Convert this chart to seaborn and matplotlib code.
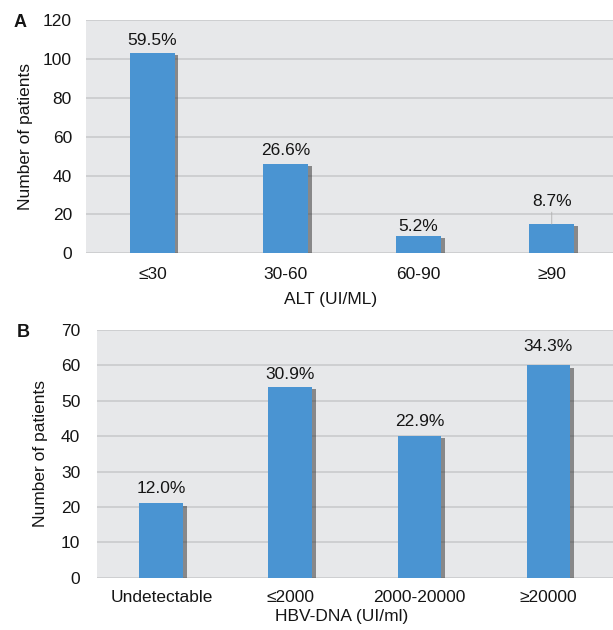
import matplotlib
matplotlib.use('Agg')
import matplotlib.pyplot as plt
import matplotlib.patheffects as pe
import pandas as pd
import seaborn as sns

# panel A: ALT
alt_groups = ['≤30', '30-60', '60-90', '≥90']
alt_counts = [103, 46, 9, 15]
alt_pct = ['59.5%', '26.6%', '5.2%', '8.7%']

# panel B: HBV-DNA
dna_groups = ['Undetectable', '≤2000', '2000-20000', '≥20000']
dna_counts = [21, 54, 40, 60]
dna_pct = ['12.0%', '30.9%', '22.9%', '34.3%']

sns.set_theme(style='white')
plt.rcParams['font.family'] = ['Liberation Sans', 'DejaVu Sans']
for k in ['text.color', 'axes.labelcolor', 'xtick.color', 'ytick.color']:
    plt.rcParams[k] = '#151515'

bar_color = '#4a94d2'
bg = '#e7e8ea'
grid = '#cacbcd'
fs = 12.5

fig = plt.figure(figsize=(6.13, 6.30), dpi=100)
ax1 = fig.add_axes([0.140, 0.598, 0.860, 0.370])
ax2 = fig.add_axes([0.158, 0.083, 0.842, 0.393])


def draw(ax, groups, counts, pct, ymax, step, xlabel, xlab_pos, ylab_x, tickpad_x, tickpad_y, label_offsets):
    df = pd.DataFrame({'group': groups, 'count': counts})
    sns.barplot(data=df, x='group', y='count', color=bar_color, width=0.34,
                saturation=1, linewidth=0, ax=ax, zorder=3)
    for p in ax.patches:
        p.set_path_effects([pe.SimplePatchShadow(offset=(2.5, -1.5), shadow_rgbFace='#2a2a2a', alpha=0.5),
                            pe.Normal()])
    ax.set_facecolor(bg)
    ax.set_ylim(0, ymax)
    ax.set_yticks(range(0, ymax + 1, step))
    ax.yaxis.grid(True, color=grid, linewidth=1.2, zorder=0)
    ax.set_axisbelow(True)
    for s in ax.spines.values():
        s.set_visible(False)
    ax.tick_params(axis='both', length=0, labelsize=fs)
    ax.tick_params(axis='x', pad=tickpad_x)
    ax.tick_params(axis='y', pad=tickpad_y)
    ax.set_xlabel(xlabel, fontsize=fs)
    ax.xaxis.set_label_coords(*xlab_pos)
    ax.set_ylabel('Number of patients', fontsize=fs)
    ax.yaxis.set_label_coords(ylab_x, 0.5)
    for i, (c, t) in enumerate(zip(counts, pct)):
        off = label_offsets[i]
        kw = {}
        if off > 8:
            kw['arrowprops'] = dict(arrowstyle='-', color='#b0b0b0', lw=0.6, shrinkA=0, shrinkB=0)
        ax.annotate(t, xy=(i, c), xytext=(0, off), textcoords='offset points',
                    ha='center', va='bottom', fontsize=fs, **kw)


draw(ax1, alt_groups, alt_counts, alt_pct, 120, 20, 'ALT (UI/ML)', (0.465, -0.165), -0.10,
     10, 10, [4, 4, 1.5, 11])
ax1.set_xlim(-0.5, 3.46)

draw(ax2, dna_groups, dna_counts, dna_pct, 70, 10, 'HBV-DNA (UI/ml)', (0.475, -0.125), -0.095,
     9, 12, [5, 3.5, 5, 8])
ax2.set_xlim(-0.5, 3.5)

fig.text(0.022, 0.965, 'A', fontsize=13, fontweight='bold', ha='left', va='center')
fig.text(0.027, 0.473, 'B', fontsize=13, fontweight='bold', ha='left', va='center')

fig.savefig('out.png', dpi=100, facecolor='white')
